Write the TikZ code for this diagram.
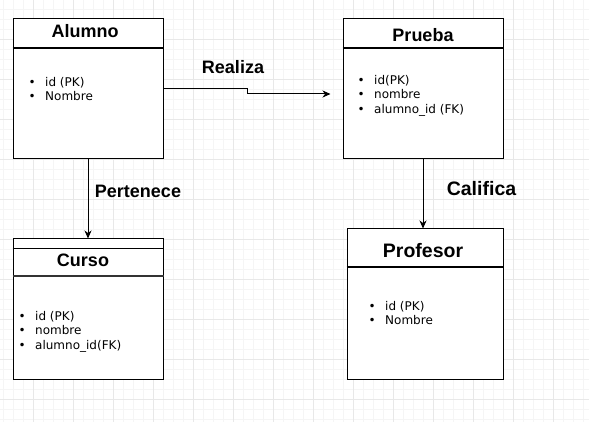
\documentclass[tikz,border=0pt]{standalone}
\usepackage{fontspec}
\setmainfont{DejaVu Sans}
\newfontfamily\titlefont{Liberation Sans}
\usetikzlibrary{arrows.meta}
\definecolor{gridmajor}{HTML}{E8E8E8}
\definecolor{gridminor}{HTML}{F5F5F5}
\definecolor{dark}{HTML}{333333}
\tikzstyle{entity} = [rectangle, draw=black, line width=1pt, fill=white, inner sep=0pt]
\tikzstyle{title} = [inner sep=0pt, font=\titlefont\bfseries\fontsize{18}{20}\selectfont]
\tikzstyle{relation} = [inner sep=0pt, font=\titlefont\bfseries\fontsize{18}{20}\selectfont]
\tikzstyle{attrs} = [inner sep=0pt, anchor=north west, align=left, font=\fontsize{12}{14.6}\selectfont]
\tikzstyle{divider} = [line width=2pt]
\tikzstyle{arrow} = [line width=1pt, -{Stealth[length=8pt, width=7pt, inset=2.5pt]}]
\newcommand{\attr}[1]{\makebox[13pt][l]{\makebox[0pt][c]{•}}#1}
\begin{document}
\begin{tikzpicture}[x=1pt, y=-1pt]
  \useasboundingbox (0,0) rectangle (589,422);
  \fill[white] (0,0) rectangle (589,422);

  % grid
  \foreach \x in {3,13,...,583} \draw[gridminor] (\x,0) -- (\x,422);
  \foreach \y in {9,19,...,419} \draw[gridminor] (0,\y) -- (589,\y);
  \foreach \x in {33,73,...,553} \draw[gridmajor] (\x,0) -- (\x,422);
  \foreach \y in {39,79,...,399} \draw[gridmajor] (0,\y) -- (589,\y);

  % entities
  \node (alumno) [entity, minimum width=150, minimum height=140] at (88,89) {};
  \node (prueba) [entity, minimum width=160, minimum height=140] at (423,89) {};
  \node (curso) [entity, minimum width=150, minimum height=140] at (88,309) {};
  \node (profesor) [entity, minimum width=156, minimum height=150] at (425,304) {};

  \draw [divider] ([yshift=-30pt]alumno.north west) -- ([yshift=-30pt]alumno.north east);
  \draw [divider] ([yshift=-30pt]prueba.north west) -- ([yshift=-30pt]prueba.north east);
  \draw [line width=1pt] ([yshift=-10pt]curso.north west) -- ([yshift=-10pt]curso.north east);
  \draw [divider, dark] ([yshift=-37.5pt]curso.north west) -- ([yshift=-37.5pt]curso.north east);
  \draw [divider] ([yshift=-38pt]profesor.north west) -- ([yshift=-38pt]profesor.north east);

  \node (alumno-title) [title] at (85,31) {Alumno};
  \node (prueba-title) [title] at (423,35) {Prueba};
  \node (curso-title) [title] at (83,260.5) {Curso};
  \node (profesor-title) [title, font=\titlefont\bfseries\fontsize{19.5}{21}\selectfont] at (423,251) {Profesor};

  \node (alumno-attrs) [attrs] at (32,76.7) {\attr{id (PK)}\\\attr{Nombre}};
  \node (prueba-attrs) [attrs] at (361,74.7) {\attr{id(PK)}\\\attr{nombre}\\\attr{alumno\_id (FK)}};
  \node (curso-attrs) [attrs] at (22,310.7) {\attr{id (PK)}\\\attr{nombre}\\\attr{alumno\_id(FK)}};
  \node (profesor-attrs) [attrs] at (372,300.7) {\attr{id (PK)}\\\attr{Nombre}};

  % relations
  \node (realiza) [relation] at (233,67) {Realiza};
  \node (pertenece) [relation] at (138,191) {Pertenece};
  \node (califica) [relation, font=\titlefont\bfseries\fontsize{19.5}{21}\selectfont] at (481.5,189) {Califica};

  \draw [arrow, shorten >=12pt] (alumno.east) -- ++(84,0) |- ([yshift=-5pt]prueba.west);
  \draw [arrow] (alumno.south) -- (curso.north);
  \draw [arrow] (prueba.south) -- (prueba.south |- profesor.north);
\end{tikzpicture}
\end{document}
